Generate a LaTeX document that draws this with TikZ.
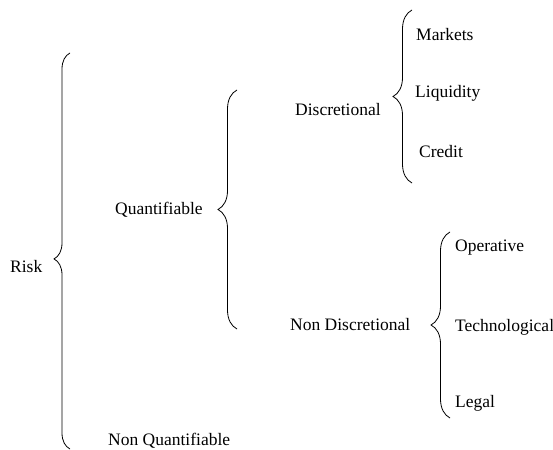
\documentclass[tikz,border=0pt]{standalone}
\usepackage{fontspec}
\setmainfont{Liberation Serif}
\usepackage{tikz}
\usetikzlibrary{positioning, decorations.pathreplacing}
\tikzset{
  lbl/.style={anchor=west, inner sep=0pt, font=\fontsize{17.5}{21}\selectfont},
  brc/.style={decorate, decoration={brace, amplitude=#1}, line width=0.8pt},
  brc/.default=19pt,
}

\begin{document}
\begin{tikzpicture}[x=1pt, y=1pt]
\useasboundingbox (0,0) rectangle (553,449);

\node[lbl] (risk) at (10,182) {Risk};
\node[lbl] (quant) at (115,239) {Quantifiable};
\node[lbl] (nonquant) at (108,8) {Non Quantifiable};
\node[lbl] (disc) at (295,339) {Discretional};
\node[lbl] (nondisc) at (290,124) {Non Discretional};
\node[lbl] (markets) at (416,414) {Markets};
\node[lbl] (liquidity) at (415,356) {Liquidity};
\node[lbl] (credit) at (419,297) {Credit};
\node[lbl] (operative) at (455,201) {Operative};
\node[lbl] (techno) at (455,122) {Technological};
\node[lbl] (legal) at (455,46) {Legal};

\coordinate (riskB) at (70,0);
\coordinate (riskT) at (70,396);
\coordinate (quantB) at (237,120);
\coordinate (quantT) at (237,359);
\coordinate (discB) at (412,266);
\coordinate (discT) at (412,439);
\coordinate (nondiscB) at (450,31);
\coordinate (nondiscT) at (450,217);

\draw[brc=16pt, decoration={aspect=0.48}] (riskB) -- (riskT);
\draw[brc] (quantB) -- (quantT);
\draw[brc] (discB) -- (discT);
\draw[brc] (nondiscB) -- (nondiscT);

\end{tikzpicture}
\end{document}
